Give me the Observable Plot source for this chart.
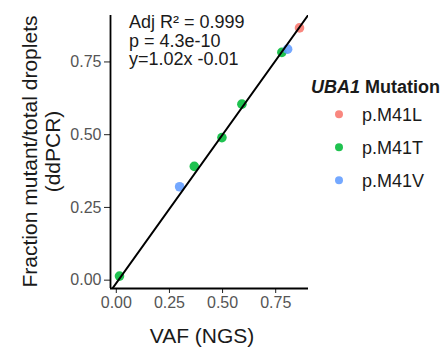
<!DOCTYPE html>
<html>
<head>
<meta charset="utf-8">
<script src="https://cdn.jsdelivr.net/npm/d3@7"></script>
<script src="https://cdn.jsdelivr.net/npm/@observablehq/plot@0.6"></script>
<style>
  body { margin: 0; background: #fff; }
  #chart svg { font-family: "Liberation Sans", Arial, sans-serif; }
  g[aria-label="x-axis tick label"], g[aria-label="y-axis tick label"] { fill: #555; }
</style>
</head>
<body>
<div id="chart"></div>
<script>
// ---- data ----
const mutation = ["p.M41T", "p.M41V", "p.M41T", "p.M41T", "p.M41T", "p.M41T", "p.M41V", "p.M41L"];
const vaf      = [0.015, 0.298, 0.367, 0.497, 0.591, 0.779, 0.806, 0.862];
const ddpcr    = [0.014, 0.321, 0.391, 0.490, 0.605, 0.783, 0.794, 0.867];
const categories = ["p.M41L", "p.M41T", "p.M41V"];
const colors = ["#F8766D", "#00BA38", "#619CFF"];
const ticks = [0, 0.25, 0.5, 0.75];
const slope = 1.02, intercept = -0.01;
const statLines = ["Adj R\u00B2 = 0.999", "p = 4.3e-10", "y=1.02x -0.01"];

const data = vaf.map((v, i) => ({vaf: v, ddpcr: ddpcr[i], mutation: mutation[i]}));

function expand([a, b]) { const e = (b - a) * 0.05; return [a - e, b + e]; }
const xDomain = expand(d3.extent(vaf));
const yDomain = expand(d3.extent(ddpcr));
const fitLine = xDomain.map(x => ({x, y: slope * x + intercept}));

const W = 446, H = 350;
const mL = 110, mR = 138, mT = 15, mB = 62;

const plot = Plot.plot({
  width: W, height: H,
  marginLeft: mL, marginRight: mR, marginTop: mT, marginBottom: mB,
  style: {fontSize: "16px", fontFamily: "Liberation Sans, Arial, sans-serif", background: "#fff"},
  x: {domain: xDomain, ticks, tickFormat: d3.format(".2f"), label: null},
  y: {domain: yDomain, ticks, tickFormat: d3.format(".2f"), label: null},
  color: {domain: categories, range: colors},
  marks: [
    Plot.axisX({ticks, tickFormat: d3.format(".2f"), tickSize: 5, tickPadding: 3, label: null, fontSize: 16, stroke: "#222"}),
    Plot.axisY({ticks, tickFormat: d3.format(".2f"), tickSize: 6, tickPadding: 3, label: null, fontSize: 16, stroke: "#222"}),
    Plot.dot(data, {x: "vaf", y: "ddpcr", fill: "mutation", r: 4.8, fillOpacity: 0.88, stroke: "none"}),
    Plot.line(fitLine, {x: "x", y: "y", stroke: "black", strokeWidth: 2, clip: true}),
    Plot.ruleX([xDomain[0]], {stroke: "black", strokeWidth: 1.8}),
    Plot.ruleY([yDomain[0]], {stroke: "black", strokeWidth: 1.8})
  ]
});

const svg = d3.select(plot);
const font = "Liberation Sans, Arial, sans-serif";

// stats annotation
const st = svg.append("text").attr("font-family", font).attr("font-size", 18).attr("fill", "#1a1a1a").attr("text-anchor", "start");
statLines.forEach((s, i) => {
  st.append("tspan").attr("x", 129).attr("y", 28 + i * 18.5).text(s);
});

// x title
svg.append("text").attr("font-family", font).attr("font-size", 21).attr("fill", "#1a1a1a")
  .attr("text-anchor", "middle").attr("x", 202).attr("y", 343).text("VAF (NGS)");

// y title (two lines)
const yt = svg.append("text").attr("font-family", font).attr("font-size", 21).attr("fill", "#1a1a1a")
  .attr("text-anchor", "middle").attr("transform", `translate(0,${(mT + H - mB) / 2}) rotate(-90)`);
yt.append("tspan").attr("x", 0).attr("y", 37).text("Fraction mutant/total droplets");
yt.append("tspan").attr("x", 0).attr("y", 60).text("(ddPCR)");

// legend
const color = plot.scale("color");
const lg = svg.append("g").attr("font-family", font).attr("text-anchor", "start");
const lt = lg.append("text").attr("x", 311).attr("y", 93).attr("font-size", 18).attr("font-weight", "bold").attr("fill", "#1a1a1a");
lt.append("tspan").attr("font-style", "italic").text("UBA1");
lt.append("tspan").text(" Mutation");
categories.forEach((c, i) => {
  const cy = 114.3 + i * 33;
  lg.append("circle").attr("cx", 339).attr("cy", cy).attr("r", 4).attr("fill", color.apply(c)).attr("fill-opacity", 0.88);
  lg.append("text").attr("x", 362).attr("y", cy + 6.5).attr("font-size", 18).attr("fill", "#1a1a1a").text(c);
});

document.getElementById("chart").appendChild(plot);
</script>
</body>
</html>
